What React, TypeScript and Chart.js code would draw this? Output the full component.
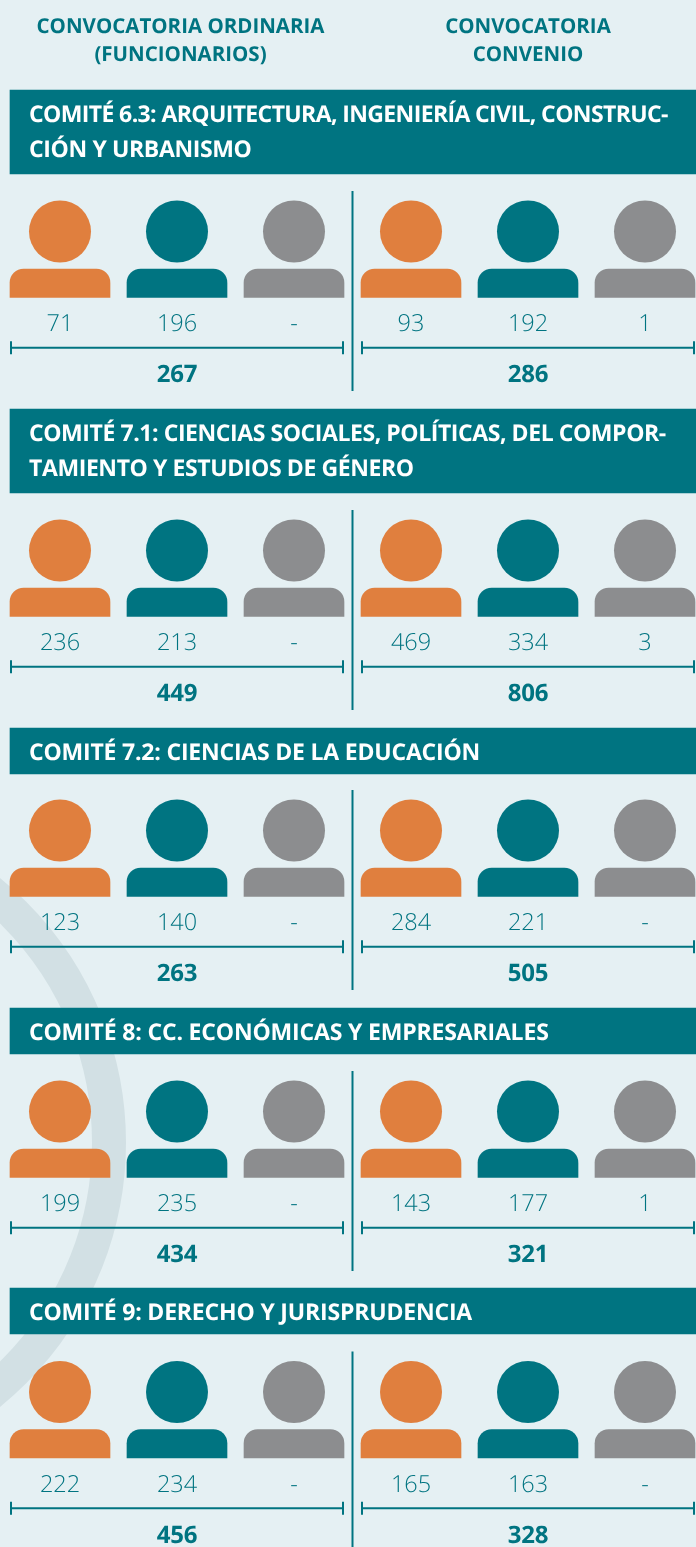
import React, { useEffect, useRef } from "react";
import { Chart, registerables } from "chart.js";

Chart.register(...registerables);

const columnTitles = [
  ["CONVOCATORIA ORDINARIA", "(FUNCIONARIOS)"],
  ["CONVOCATORIA", "CONVENIO"],
];
const committeeTitles = [
  ["COMITÉ 6.3: ARQUITECTURA, INGENIERÍA CIVIL, CONSTRUC-", "CIÓN Y URBANISMO"],
  ["COMITÉ 7.1: CIENCIAS SOCIALES, POLÍTICAS, DEL COMPOR-", "TAMIENTO Y ESTUDIOS DE GÉNERO"],
  ["COMITÉ 7.2: CIENCIAS DE LA EDUCACIÓN"],
  ["COMITÉ 8: CC. ECONÓMICAS Y EMPRESARIALES"],
  ["COMITÉ 9: DERECHO Y JURISPRUDENCIA"],
];
const ordinariaOrange = [71, 236, 123, 199, 222];
const ordinariaTeal = [196, 213, 140, 235, 234];
const ordinariaGray: (number | null)[] = [null, null, null, null, null];
const ordinariaTotal = [267, 449, 263, 434, 456];
const convenioOrange = [93, 469, 284, 143, 165];
const convenioTeal = [192, 334, 221, 177, 163];
const convenioGray: (number | null)[] = [1, 3, null, 1, null];
const convenioTotal = [286, 806, 505, 321, 328];

const W = 696;
const H = 1547;
const BG = "#e5f0f3";
const TEAL = "#007481";
const ORANGE = "#e07f3e";
const GRAY = "#8c8d8f";
const RING = "#d2e0e4";
const COLORS = [ORANGE, TEAL, GRAY];

const panelTop = [0, 319, 599, 880, 1160.5];
const bandTop = [90, 409, 728, 1008, 1288];
const bandBottom = [174, 493, 774, 1054, 1334];
const titleSpacing = [[-0.62, -0.37], [-0.43, -0.4], [-0.2], [-0.17], [-0.18]];
const personX = [[60, 177, 294], [411, 528, 645]];
const bracket = [[11, 343], [362, 694]];
const FONT = '"Open Sans"';

export default function App() {
  const ref = useRef<HTMLCanvasElement>(null);
  useEffect(() => {
    const ordinaria = [ordinariaOrange, ordinariaTeal, ordinariaGray];
    const convenio = [convenioOrange, convenioTeal, convenioGray];
    const heads: any[] = [];
    const bodies: any[] = [];
    const headColors: string[] = [];
    const bodyColors: string[] = [];
    const lines: any[] = [];
    const line = (a: number[], b: number[], w: number) =>
      lines.push({
        type: "scatter",
        showLine: true,
        order: 2,
        data: [{ x: a[0], y: a[1] }, { x: b[0], y: b[1] }],
        borderColor: TEAL,
        borderWidth: w,
        pointRadius: 0,
      });

    panelTop.forEach((dy) => {
      personX.forEach((xs, side) => {
        xs.forEach((x, k) => {
          heads.push({ x, y: 231.5 + dy });
          bodies.push({ x, y: [269 + dy, 297.3 + dy] });
          headColors.push(COLORS[k]);
          bodyColors.push(COLORS[k]);
        });
        const [x0, x1] = bracket[side];
        const y = 347.7 + dy;
        line([x0, y], [x1, y], 2);
        line([x0, y - 6.5], [x0, y + 6.5], 2);
        line([x1, y - 6.5], [x1, y + 6.5], 2);
      });
      line([352.5, 191 + dy], [352.5, 391 + dy], 2);
    });

    const textPlugin = {
      id: "texts",
      beforeDraw(chart: any) {
        const c = chart.ctx;
        c.save();
        c.fillStyle = BG;
        c.fillRect(0, 0, W, H);
        c.restore();
      },
      afterDatasetsDraw(chart: any) {
        const c = chart.ctx;
        const sx = chart.scales.x;
        const sy = chart.scales.y;
        const put = (s: string, x: number, y: number, font: string, color: string, align: CanvasTextAlign, ls = "0px") => {
          c.font = font;
          c.fillStyle = color;
          c.textAlign = align;
          c.textBaseline = "alphabetic";
          c.letterSpacing = ls;
          c.fillText(s, sx.getPixelForValue(x), sy.getPixelForValue(y));
        };
        c.save();
        c.textRendering = "geometricPrecision";
        c.fontKerning = "normal";
        const headFont = `700 20.5px ${FONT}`;
        columnTitles.forEach((ls, i) => {
          const cx = i === 0 ? 180.5 : 528;
          ls.forEach((s, j) => put(s, cx, 32.8 + j * 27.8, headFont, TEAL, "center"));
        });
        committeeTitles.forEach((ls, i) => {
          ls.forEach((s, j) =>
            put(s, 29, bandTop[i] + 32 + j * 34.7, `700 23px ${FONT}`, "#ffffff", "left", `${titleSpacing[i][j]}px`)
          );
        });
        panelTop.forEach((dy, i) => {
          [ordinaria, convenio].forEach((grp, side) => {
            grp.forEach((vals, k) => {
              const v = vals[i];
              put(v === null ? "-" : String(v), personX[side][k], 331 + dy, `300 23.5px ${FONT}`, TEAL, "center");
            });
            const total = (side === 0 ? ordinariaTotal : convenioTotal)[i];
            put(String(total), personX[side][1], 382 + dy, `700 24px ${FONT}`, TEAL, "center", "-0.3px");
          });
        });
        c.restore();
      },
    };

    const chart = new Chart(ref.current as HTMLCanvasElement, {
      type: "bar",
      data: {
        datasets: [
          {
            type: "scatter",
            order: 5,
            data: [{ x: -214.6, y: 1142.5 }],
            pointRadius: 323.6,
            pointHoverRadius: 323.6,
            pointBorderWidth: 34,
            pointBackgroundColor: "rgba(0,0,0,0)",
            pointBorderColor: RING,
          },
          {
            type: "bar",
            order: 4,
            grouped: false,
            barThickness: 686,
            data: bandTop.map((t, i) => ({ x: 353, y: [t, bandBottom[i]] })),
            backgroundColor: TEAL,
            borderWidth: 0,
          },
          {
            type: "bar",
            order: 3,
            grouped: false,
            barThickness: 100,
            data: bodies,
            backgroundColor: bodyColors,
            borderWidth: 0,
            borderSkipped: false,
            borderRadius: { topLeft: 14, topRight: 14, bottomLeft: 0, bottomRight: 0 },
          },
          ...lines,
          {
            type: "scatter",
            order: 1,
            data: heads,
            pointRadius: 31,
            pointHoverRadius: 31,
            pointBorderWidth: 0,
            pointBackgroundColor: headColors,
          },
        ],
      } as any,
      options: {
        animation: false,
        responsive: false,
        devicePixelRatio: 1,
        events: [],
        layout: { padding: 0, autoPadding: false },
        plugins: { legend: { display: false }, tooltip: { enabled: false } },
        scales: {
          x: { type: "linear", min: 0, max: W, display: false, offset: false },
          y: { type: "linear", min: 0, max: H, reverse: true, display: false },
        },
      } as any,
      plugins: [textPlugin],
    });
    return () => chart.destroy();
  }, []);

  return (
    <div style={{ position: "absolute", left: 0, top: 0, width: W, height: H }}>
      <canvas ref={ref} width={W} height={H} style={{ display: "block" }} />
    </div>
  );
}
